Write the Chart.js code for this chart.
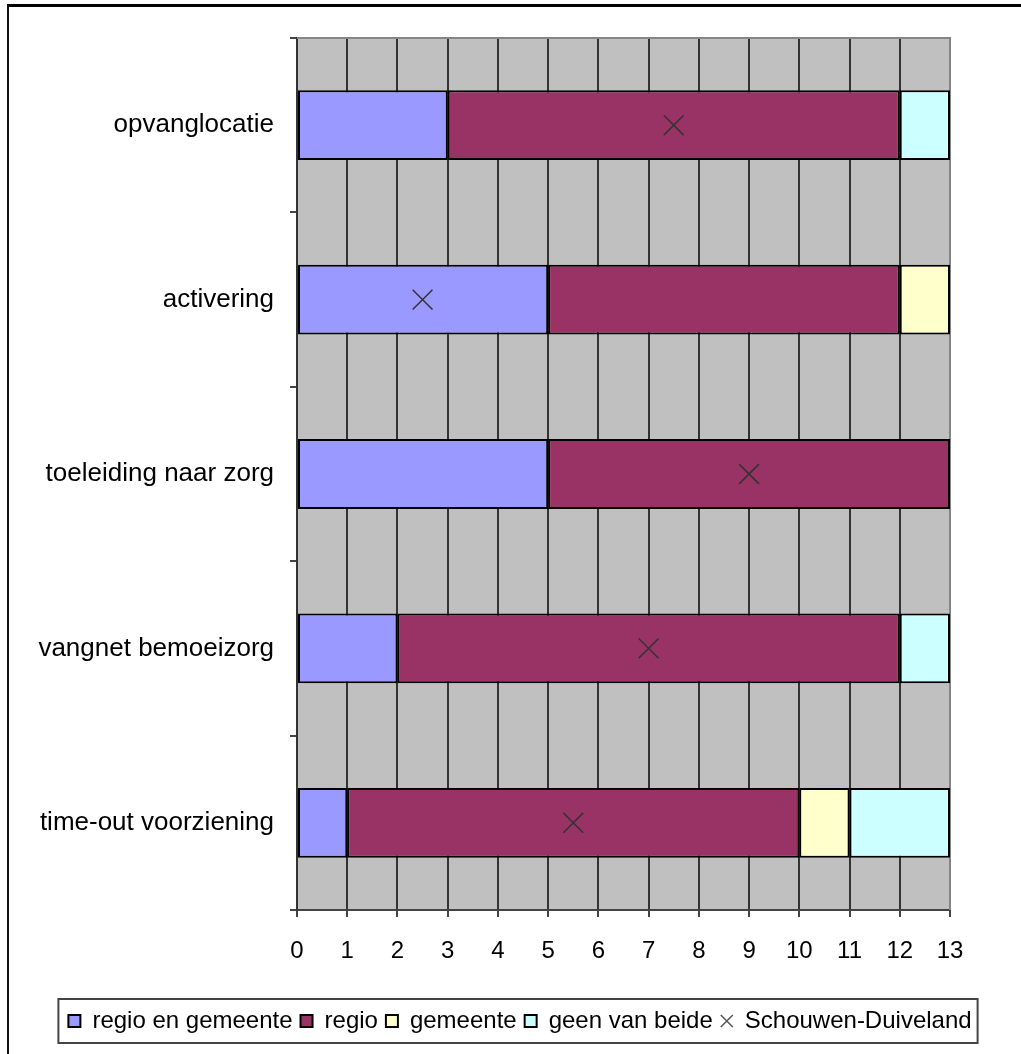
<!DOCTYPE html>
<html><head><meta charset="utf-8">
<script src="https://cdn.jsdelivr.net/npm/chart.js@4.4.0/dist/chart.umd.min.js"></script>
<style>
html,body{margin:0;padding:0;background:#fff;overflow:hidden;}
#wrap{position:relative;width:1021px;height:1054px;}
#frame{position:absolute;left:7px;top:4px;width:1100px;height:1100px;border-top:3px solid #000;border-left:2px solid #111;pointer-events:none;}
canvas{position:absolute;left:0;top:0;}
</style></head><body>
<div id="wrap"><canvas id="c" width="1021" height="1054"></canvas><div id="frame"></div></div>
<script>
const categories = ['opvanglocatie', 'activering', 'toeleiding naar zorg', 'vangnet bemoeizorg', 'time-out voorziening'];
const regioEnGemeente = [3, 5, 5, 2, 1];
const regio = [9, 7, 8, 10, 9];
const gemeente = [0, 1, 0, 0, 1];
const geenVanBeide = [1, 0, 0, 1, 2];
const schouwenDuiveland = [7.5, 2.5, 9, 7, 5.5];
const xTickLabels = [0, 1, 2, 3, 4, 5, 6, 7, 8, 9, 10, 11, 12, 13];
const seriesNames = ['regio en gemeente', 'regio', 'gemeente', 'geen van beide', 'Schouwen-Duiveland'];

const FONT = "'Liberation Sans', Arial, sans-serif";

const plotDecor = {
  id: 'plotDecor',
  beforeDraw(chart) {
    const {ctx, chartArea: a} = chart;
    ctx.save();
    ctx.fillStyle = '#C0C0C0';
    ctx.fillRect(a.left, a.top, a.right - a.left, a.bottom - a.top);
    ctx.restore();
  },
  beforeDatasetsDraw(chart) {
    const {ctx, chartArea: a} = chart;
    ctx.save();
    ctx.strokeStyle = '#858585';
    ctx.lineWidth = 2;
    ctx.beginPath();
    ctx.moveTo(a.left, a.top);
    ctx.lineTo(a.right, a.top);
    ctx.lineTo(a.right, a.bottom);
    ctx.stroke();
    ctx.restore();
  },
  afterDraw(chart) {
    const lg = chart.legend;
    if (!lg || !lg.legendHitBoxes || !lg.legendHitBoxes.length) return;
    const hb = lg.legendHitBoxes;
    const left = Math.min(...hb.map(h => h.left)) - 10;
    const right = Math.max(...hb.map(h => h.left + h.width)) + 6;
    const cy = hb[0].top + hb[0].height / 2;
    const {ctx} = chart;
    ctx.save();
    ctx.strokeStyle = '#444';
    ctx.lineWidth = 2;
    ctx.strokeRect(left, cy - 22, right - left, 44);
    ctx.restore();
  }
};

const barCommon = {
  type: 'bar',
  borderColor: '#000',
  borderWidth: 2,
  borderSkipped: false,
  barPercentage: 0.4,
  categoryPercentage: 1,
  stack: 'bars',
  order: 1
};

new Chart(document.getElementById('c'), {
  type: 'bar',
  data: {
    labels: categories,
    datasets: [
      Object.assign({label: seriesNames[0], data: regioEnGemeente, backgroundColor: '#9999FF'}, barCommon),
      Object.assign({label: seriesNames[1], data: regio, backgroundColor: '#993366'}, barCommon),
      Object.assign({label: seriesNames[2], data: gemeente, backgroundColor: '#FFFFCC'}, barCommon),
      Object.assign({label: seriesNames[3], data: geenVanBeide, backgroundColor: '#CCFFFF'}, barCommon),
      {
        type: 'line', label: seriesNames[4], data: schouwenDuiveland,
        showLine: false, pointStyle: 'crossRot', pointRadius: 14, pointHoverRadius: 14,
        borderColor: '#333', backgroundColor: '#333', pointBorderWidth: 1.5, borderWidth: 1.5,
        stack: 'marker', order: 0
      }
    ]
  },
  options: {
    indexAxis: 'y',
    responsive: false,
    animation: false,
    events: [],
    layout: {padding: {left: 20, right: 1, top: 38, bottom: 11}},
    scales: {
      x: {
        stacked: true, min: 0, max: 13,
        afterBuildTicks(scale) { scale.ticks = xTickLabels.map(v => ({value: v})); },
        afterFit(scale) { scale.height = 91; },
        grid: {color: '#333', lineWidth: 2, tickLength: 7, tickColor: '#444', tickWidth: 2},
        border: {display: true, color: '#444', width: 2},
        ticks: {font: {family: FONT, size: 24}, color: '#000', padding: 20, maxRotation: 0}
      },
      y: {
        stacked: true,
        afterFit(scale) { scale.width = 277; },
        grid: {drawOnChartArea: false, offset: true, tickLength: 7, color: '#444', lineWidth: 2},
        border: {display: true, color: '#333', width: 2},
        ticks: {font: {family: FONT, size: 26}, color: '#000', padding: 16}
      },
      yRight: {
        type: 'linear', axis: 'y', position: 'right', display: true,
        grid: {display: false}, border: {display: false}, ticks: {display: false},
        afterFit(scale) { scale.width = 70; }
      }
    },
    plugins: {
      tooltip: {enabled: false},
      legend: {
        position: 'bottom',
        labels: {
          font: {family: FONT, size: 24}, color: '#000',
          usePointStyle: true, boxWidth: 12, boxHeight: 12, padding: 8,
          sort: (a, b) => a.datasetIndex - b.datasetIndex,
          generateLabels(chart) {
            const items = Chart.defaults.plugins.legend.labels.generateLabels(chart);
            items.forEach(it => {
              const ds = chart.data.datasets[it.datasetIndex];
              if (ds.type === 'line') { it.pointStyle = 'crossRot'; it.strokeStyle = '#555'; it.lineWidth = 1.5; it.fillStyle = '#555'; }
              else { it.pointStyle = 'rect'; it.strokeStyle = '#000'; it.lineWidth = 2; }
            });
            return items;
          }
        }
      }
    }
  },
  plugins: [plotDecor]
});
</script>
</body></html>
